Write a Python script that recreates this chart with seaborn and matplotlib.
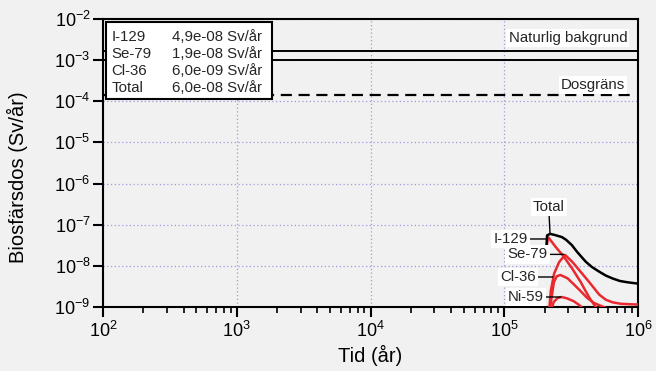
import matplotlib
matplotlib.use("Agg")
import matplotlib.pyplot as plt
import numpy as np
import pandas as pd
import seaborn as sns
from matplotlib.ticker import LogLocator, NullLocator, NullFormatter, LogFormatterSciNotation
from matplotlib.patches import Rectangle

# ---------------- data ----------------
total_t = [2.07e5, 2.09e5, 2.2e5, 2.4e5, 2.7e5, 2.9e5, 3.2e5, 3.5e5, 3.75e5, 4.07e5,
           4.5e5, 5.1e5, 5.75e5, 6.5e5, 7.3e5, 8.3e5, 1.0e6]
total_d = [3.2e-8, 5.5e-8, 6.0e-8, 5.6e-8, 5.0e-8, 4.3e-8, 3.2e-8, 2.2e-8, 1.7e-8, 1.26e-8,
           9.5e-9, 7.3e-9, 5.8e-9, 4.9e-9, 4.3e-9, 4.0e-9, 3.7e-9]

i129_t = [2.09e5, 2.12e5, 2.14e5, 2.42e5, 2.79e5, 3.22e5, 3.72e5, 4.07e5, 4.37e5, 5.0e5]
i129_d = [3.4e-8, 4.7e-8, 4.9e-8, 2.9e-8, 1.67e-8, 8.6e-9, 4.1e-9, 2.4e-9, 1.6e-9, 8.5e-10]

se79_t = [2.17e5, 2.23e5, 2.36e5, 2.57e5, 2.85e5, 3.22e5, 3.72e5, 4.3e5, 4.68e5, 5.13e5,
          5.75e5, 6.46e5, 7.4e5, 8.5e5, 1.0e6]
se79_d = [8.5e-10, 2.5e-9, 6.5e-9, 1.23e-8, 1.85e-8, 1.26e-8, 7.2e-9, 4.1e-9, 2.9e-9, 2.0e-9,
          1.5e-9, 1.3e-9, 1.2e-9, 1.17e-9, 1.15e-9]

cl36_t = [2.19e5, 2.27e5, 2.35e5, 2.47e5, 2.63e5, 2.97e5, 3.33e5, 3.74e5, 4.17e5, 4.68e5,
          5.25e5, 6.03e5]
cl36_d = [8.5e-10, 1.9e-9, 4.0e-9, 5.6e-9, 6.0e-9, 5.0e-9, 3.5e-9, 2.4e-9, 1.66e-9, 1.26e-9,
          1.07e-9, 9.0e-10]

ni59_t = [2.25e5, 2.34e5, 2.51e5, 2.69e5, 2.95e5, 3.31e5, 3.63e5, 3.98e5]
ni59_d = [8.5e-10, 1.32e-9, 1.66e-9, 1.75e-9, 1.62e-9, 1.38e-9, 1.12e-9, 8.5e-10]

natural_bg_low, natural_bg_high = 1.0e-3, 1.7e-3
dose_limit = 1.4e-4

legend_names = ["I-129", "Se-79", "Cl-36", "Total"]
legend_values = ["4,9e-08 Sv/år", "1,9e-08 Sv/år", "6,0e-09 Sv/år", "6,0e-08 Sv/år"]

series = {
    "I-129": (i129_t, i129_d),
    "Se-79": (se79_t, se79_d),
    "Cl-36": (cl36_t, cl36_d),
    "Ni-59": (ni59_t, ni59_d),
    "Total": (total_t, total_d),
}
frames = []
for name, (t, d) in series.items():
    frames.append(pd.DataFrame({"t": t, "dose": d, "nuklid": name}))
df = pd.concat(frames, ignore_index=True)

# ---------------- style ----------------
BG = "#f1f1f1"
RED = "#e8292e"
sns.set_theme(style="ticks")
plt.rcParams["font.family"] = ["Liberation Sans", "DejaVu Sans"]
plt.rcParams["axes.unicode_minus"] = False
plt.rcParams["mathtext.default"] = "regular"

fig = plt.figure(figsize=(6.56, 3.71), dpi=100, facecolor=BG)
ax = fig.add_axes([103 / 656, 1 - 307 / 371, (638 - 103) / 656, (307 - 19) / 371])
ax.set_facecolor(BG)

palette = {"I-129": RED, "Se-79": RED, "Cl-36": RED, "Ni-59": RED, "Total": "black"}
sns.lineplot(data=df, x="t", y="dose", hue="nuklid", palette=palette, estimator=None,
             sort=False, units="nuklid", legend=False, linewidth=1.8, ax=ax,
             hue_order=["I-129", "Se-79", "Cl-36", "Ni-59", "Total"])
for ln in ax.lines:
    ln.set_solid_joinstyle("round")
    ln.set_zorder(4)
ax.lines[-1].set_zorder(5)

ax.set_xscale("log")
ax.set_yscale("log")
ax.set_xlim(1e2, 1e6)
ax.set_ylim(1e-9, 1e-2)

# grid
ax.grid(True, which="major", color="#9c9cdc", linestyle=(0, (1, 2)), linewidth=0.9)
ax.set_axisbelow(True)

# ticks
ax.xaxis.set_major_locator(LogLocator(base=10, numticks=10))
ax.xaxis.set_minor_locator(LogLocator(base=10, subs=np.arange(2, 10), numticks=20))
ax.xaxis.set_minor_formatter(NullFormatter())
ax.yaxis.set_major_locator(LogLocator(base=10, numticks=12))
ax.yaxis.set_minor_locator(NullLocator())
ax.xaxis.set_major_formatter(LogFormatterSciNotation())
ax.yaxis.set_major_formatter(LogFormatterSciNotation())
ax.tick_params(axis="both", which="major", direction="out", length=7, width=1.5,
               labelsize=13, color="black", labelcolor="black")
ax.tick_params(axis="x", which="minor", direction="out", length=4, width=1.2, color="black")
ax.tick_params(axis="x", which="major", pad=3)
ax.tick_params(axis="y", which="major", pad=2)
for s in ax.spines.values():
    s.set_linewidth(1.5)
    s.set_color("black")

ax.set_xlabel("Tid (år)", fontsize=14.5, color="black")
ax.set_ylabel("Biosfärsdos (Sv/år)", fontsize=14.5, color="black")
ax.xaxis.set_label_coords(0.5, -0.13)
ax.yaxis.set_label_coords(-0.14, 0.45)

# natural background rectangle and dose limit
ax.add_patch(Rectangle((1e2, natural_bg_low), 1e6 - 1e2, natural_bg_high - natural_bg_low,
                       fill=False, edgecolor="black", linewidth=1.4, zorder=3))
ax.hlines(dose_limit, 1e2, 9.0e5, colors="black", linestyles=(0, (5, 3)), linewidth=1.6, zorder=3)

box = dict(boxstyle="square,pad=0.15", fc="white", ec="none")
ax.text(2.99e5, 3.45e-3, "Naturlig bakgrund", fontsize=10.8, ha="center", va="center",
        bbox=box, zorder=6)
ax.text(4.6e5, 2.49e-4, "Dosgräns", fontsize=10.8, ha="center", va="center", bbox=box, zorder=6)

# legend-like box
ax.add_patch(Rectangle((0.006, 0.722), 0.31, 0.267, transform=ax.transAxes, fc="white",
                       ec="black", lw=1.5, zorder=7))
rows_y = [0.9375, 0.878, 0.819, 0.760]
for yy, nm, val in zip(rows_y, legend_names, legend_values):
    ax.text(0.016, yy, nm, transform=ax.transAxes, fontsize=10.8, ha="left", va="center", zorder=8)
    ax.text(0.129, yy, val, transform=ax.transAxes, fontsize=10.8, ha="left", va="center", zorder=8)

# curve labels with leader lines
labels = [
    ("Total", (2.2e5, 5.9e-8), (2.15e5, 2.69e-7)),
    ("I-129", (2.08e5, 4.5e-8), (1.12e5, 4.5e-8)),
    ("Se-79", (2.79e5, 1.9e-8), (1.5e5, 1.9e-8)),
    ("Cl-36", (2.31e5, 5.36e-9), (1.26e5, 5.36e-9)),
    ("Ni-59", (2.65e5, 1.75e-9), (1.45e5, 1.75e-9)),
]
for txt, xy, xyt in labels:
    ax.annotate(txt, xy=xy, xytext=xyt, textcoords="data", fontsize=10.8, ha="center",
                va="center", bbox=box, zorder=6,
                arrowprops=dict(arrowstyle="-", color="black", lw=1.0, shrinkA=0, shrinkB=0))

fig.savefig("out.png", dpi=100, facecolor=BG)
